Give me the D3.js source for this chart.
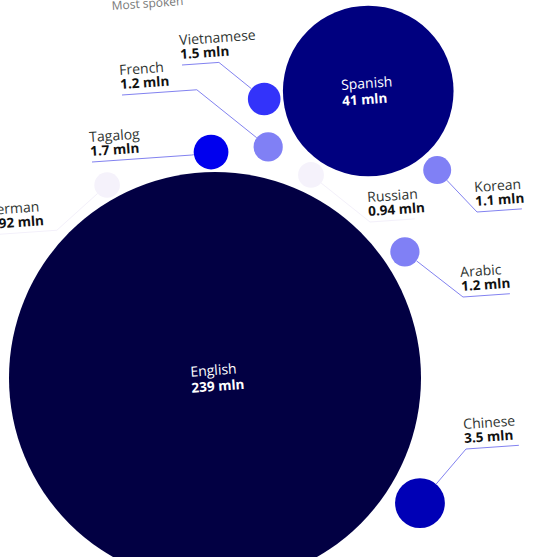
<!DOCTYPE html>
<html>
<head>
<meta charset="utf-8">
<script src="https://cdn.jsdelivr.net/npm/d3@7"></script>
<style>
  body { margin: 0; background: #fff; }
  svg { display: block; }
  text { font-family: "Open Sans", sans-serif; }
</style>
</head>
<body>
<div id="chart"></div>
<script>
// Data: speakers in the US, millions
const languages = ["English", "Spanish", "Chinese", "Tagalog", "Vietnamese", "French", "Arabic", "Korean", "Russian", "German"];
const speakers  = [239, 41, 3.5, 1.7, 1.5, 1.2, 1.2, 1.1, 0.94, 0.92];

// Packing: each bubble leans on another one (index), at an angle (deg) with a small gap
const leanOn   = [null, 0, 0, 0, 1, 1, 0, 1, 0, 0];
const leanAng  = [0, -61.9, 31.4, -91.0, 175.6, 150.8, -33.6, 48.9, -64.7, -119.2];
const leanGap  = [0, 34, 9.2, 2.6, 2.7, 14.7, 7.4, 5.6, 5.7, 2.4];

// Outside labels: underline start, underline length, which end the leader joins
const labelAt  = [null, null, [466, 449], [92, 162], [182, 65], [122, 95], [463, 297], [477, 212], [370, 222], [-11, 235]];
const lineLen  = [0, 0, 53, 100, 37, 75, 47, 45, 45, 68];
const lineSide = [null, null, "right", "left", "left", "left", "right", "right", "right", "left"];

const width = 557, height = 557;
const tilt = -4;

const r = d3.scaleSqrt().domain([0, 239]).range([0, 206]);
const color = d3.scaleThreshold()
    .domain([1, 1.3, 1.6, 2, 10, 100])
    .range(["#f5f2fb", "#8080f5", "#3333fa", "#0000ee", "#0000b6", "#00007f", "#020043"]);

// position bubbles
const nodes = languages.map((name, i) => ({ name, value: speakers[i], r: r(speakers[i]), i }));
nodes[0].x = 215; nodes[0].y = 378;
nodes.forEach((n, i) => {
    if (leanOn[i] === null) return;
    const p = nodes[leanOn[i]];
    const a = leanAng[i] * Math.PI / 180;
    const d = p.r + n.r + leanGap[i];
    n.x = p.x + d * Math.cos(a);
    n.y = p.y + d * Math.sin(a);
});

const svg = d3.select('#chart').append('svg')
    .attr('width', width)
    .attr('height', height);

// title (mostly out of frame)
svg.append('text')
    .attr('transform', `translate(112,10) rotate(${tilt})`)
    .attr('font-size', 12)
    .attr('fill', '#777')
    .text('Most spoken');

svg.selectAll('circle')
    .data(nodes)
    .enter().append('circle')
    .attr('cx', d => d.x)
    .attr('cy', d => d.y)
    .attr('r', d => d.r)
    .attr('fill', d => color(d.value));

// labels inside the two big bubbles
const inner = svg.selectAll('g.inner')
    .data(nodes.filter(d => labelAt[d.i] === null))
    .enter().append('g')
    .attr('class', 'inner')
    .attr('transform', d => `translate(${d.x},${d.y}) rotate(${tilt})`);

inner.append('text')
    .attr('class', 'nm')
    .attr('x', -1)
    .attr('y', -3)
    .attr('text-anchor', 'middle')
    .attr('font-size', 14)
    .attr('fill', '#fff')
    .text(d => d.name);

inner.append('text')
    .attr('y', 13)
    .attr('font-size', 13.5)
    .attr('font-weight', 700)
    .attr('fill', '#fff')
    .attr('x', function () {
        const w = this.parentNode.querySelector('.nm').getComputedTextLength();
        return -1 - w / 2;
    })
    .text(d => d.value + ' mln');

// outside labels with leaders
const outer = nodes.filter(d => labelAt[d.i] !== null);
const ca = Math.cos(tilt * Math.PI / 180), sa = Math.sin(tilt * Math.PI / 180);

outer.forEach(d => {
    const [px, py] = labelAt[d.i];
    const L = lineLen[d.i];
    const faded = d.value < 1;
    const lineColor = faded ? '#f3f0fa' : '#8282f0';
    const ex = lineSide[d.i] === 'left' ? px + L * ca : px;
    const ey = lineSide[d.i] === 'left' ? py + L * sa : py;
    const dx = ex - d.x, dy = ey - d.y, dist = Math.hypot(dx, dy);
    const edge = [d.x + d.r * dx / dist, d.y + d.r * dy / dist];

    svg.append('line')
        .attr('x1', px).attr('y1', py)
        .attr('x2', px + L * ca).attr('y2', py + L * sa)
        .attr('stroke', lineColor)
        .attr('stroke-width', 1);
    svg.append('line')
        .attr('x1', ex).attr('y1', ey)
        .attr('x2', edge[0]).attr('y2', edge[1])
        .attr('stroke', lineColor)
        .attr('stroke-width', 1);

    const g = svg.append('g')
        .attr('transform', `translate(${px},${py}) rotate(${tilt})`);
    g.append('text')
        .attr('x', -1).attr('y', -20)
        .attr('font-size', 14)
        .attr('fill', '#2f3532')
        .text(d.name);
    g.append('text')
        .attr('x', -1).attr('y', -6)
        .attr('font-size', 13.5)
        .attr('font-weight', 700)
        .attr('fill', '#111')
        .text(d.value + ' mln');
});
</script>
</body>
</html>
